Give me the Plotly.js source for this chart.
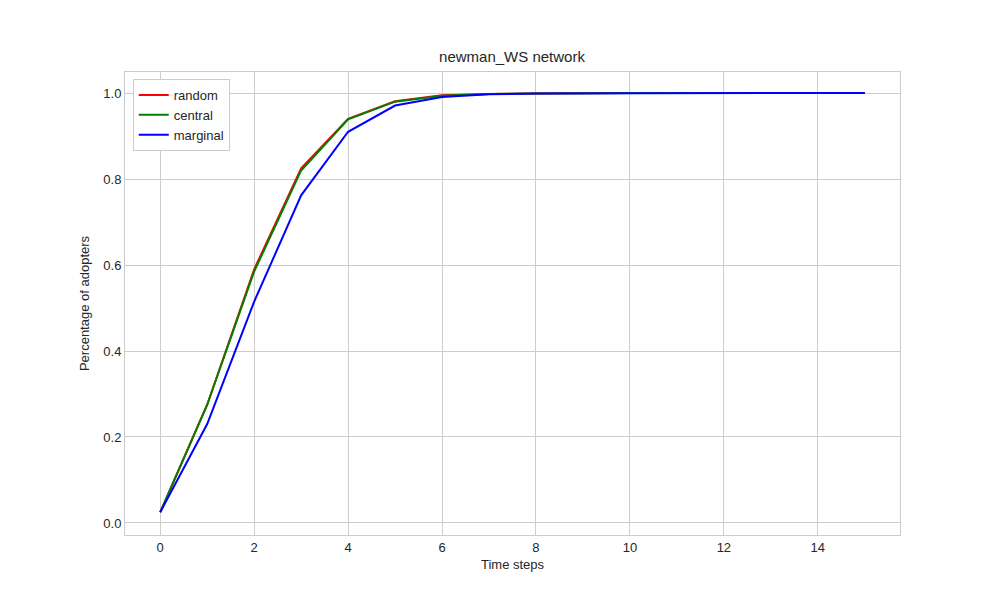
<!DOCTYPE html><html><head><script src="https://cdn.plot.ly/plotly-3.0.1.min.js"></script></head><body style="margin:0">
<div id="c" style="width:1000px;height:600px"></div>
<script>
const steps=[0,1,2,3,4,5,6,7,8,9,10,11,12,13,14,15];
const random=[0.025,0.275,0.59,0.825,0.94,0.981,0.995,0.998,0.999,1,1,1,1,1,1,1];
const central=[0.025,0.275,0.585,0.82,0.939,0.98,0.994,0.998,0.999,1,1,1,1,1,1,1];
const marginal=[0.025,0.23,0.515,0.762,0.91,0.971,0.991,0.997,0.999,0.9995,1,1,1,1,1,1];
const mk=(y,n,c)=>({x:steps,y:y,name:n,mode:'lines',line:{color:c,width:2}});
Plotly.newPlot('c',[mk(random,'random','red'),mk(central,'central','green'),mk(marginal,'marginal','blue')],{
width:1000,height:600,paper_bgcolor:'white',plot_bgcolor:'white',
font:{family:'Liberation Sans, Arial',size:13,color:'#262626'},
title:{text:'newman_WS network',x:0.512,y:0.915,font:{size:15}},
margin:{l:125,r:100,t:72,b:65},
xaxis:{range:[-0.75,15.75],tickvals:[0,2,4,6,8,10,12,14],gridcolor:'#cccccc',zeroline:false,showline:true,linecolor:'#cccccc',mirror:true,title:{text:'Time steps',standoff:6,font:{size:13}},ticks:'',ticklen:0},
yaxis:{range:[-0.028,1.049],tickvals:[0,0.2,0.4,0.6,0.8,1],tickformat:'.1f',gridcolor:'#cccccc',zeroline:false,showline:true,linecolor:'#cccccc',mirror:true,title:{text:'Percentage of adopters',standoff:10,font:{size:13}}},
legend:{x:0.01,y:0.985,xanchor:'left',yanchor:'top',bordercolor:'#cccccc',borderwidth:1,bgcolor:'white',font:{size:13}}
},{displayModeBar:false});
</script></body></html>
